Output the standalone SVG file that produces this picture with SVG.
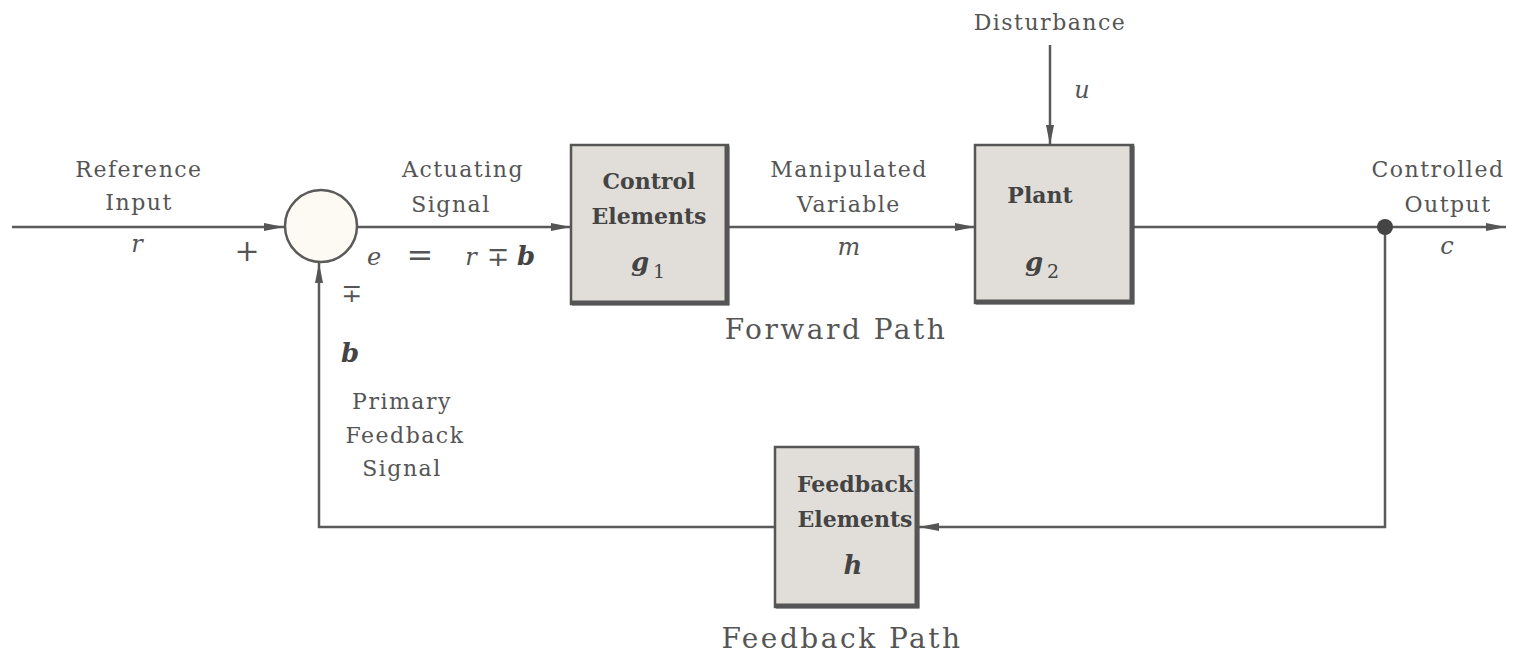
<svg xmlns="http://www.w3.org/2000/svg" width="1516" height="654" viewBox="0 0 1516 654">
<defs>
<marker id="arr" viewBox="0 0 20 10" refX="20" refY="5" markerWidth="20" markerHeight="10" markerUnits="userSpaceOnUse" orient="auto">
<path d="M0,1 L20,5 L0,9 Z" fill="#555"/>
</marker>
</defs>
<style>
.ln{stroke:#5a5a5a;stroke-width:2.5;fill:none}
.lbl{font-family:"DejaVu Serif","Liberation Serif",serif;font-size:22px;fill:#555;text-anchor:middle;letter-spacing:1.5px}
.sym{font-family:"DejaVu Serif","Liberation Serif",serif;fill:#555;text-anchor:middle}
.big{font-family:"DejaVu Serif","Liberation Serif",serif;font-size:28px;fill:#555;text-anchor:middle;letter-spacing:2.5px}
.bx{font-family:"DejaVu Serif","Liberation Serif",serif;font-size:22px;font-weight:bold;fill:#444;text-anchor:middle}
.mi{font-family:"DejaVu Serif","Liberation Serif",serif;font-style:italic;font-size:24px;fill:#555;text-anchor:middle}
.mb{font-family:"DejaVu Serif","Liberation Serif",serif;font-style:italic;font-weight:bold;font-size:26px;fill:#444;text-anchor:middle}
.box{fill:#e1deda;stroke:#555;stroke-width:2.5}
.shadow{stroke:#555;stroke-width:5;fill:none}
</style>
<rect width="1516" height="654" fill="#ffffff"/>
<g id="connectors">
<line class="ln" x1="12" y1="227" x2="284" y2="227" marker-end="url(#arr)"/>
<line class="ln" x1="357" y1="227" x2="571" y2="227" marker-end="url(#arr)"/>
<line class="ln" x1="728" y1="227" x2="975" y2="227" marker-end="url(#arr)"/>
<line class="ln" x1="1050" y1="45" x2="1050" y2="145" marker-end="url(#arr)"/>
<line class="ln" x1="1133" y1="227" x2="1506" y2="227" marker-end="url(#arr)"/>
<polyline class="ln" points="1385,227 1385,527 919,527" marker-end="url(#arr)"/>
<polyline class="ln" points="775,527 319,527 319,263" marker-end="url(#arr)"/>
<circle cx="1385" cy="227" r="8" fill="#444"/>
</g>
<g id="sum">
<circle cx="321" cy="226" r="36" fill="#fcfaf2" stroke="#5a5a5a" stroke-width="2.5"/>
</g>
<g id="control">
<rect class="box" x="571" y="145" width="157" height="159"/>
<polyline class="shadow" points="727,146 727,303 572,303"/>
<text class="bx" x="649" y="189">Control</text>
<text class="bx" x="649" y="224">Elements</text>
<text class="mb" x="640" y="271">g</text>
<text x="659" y="278" font-family="DejaVu Serif,serif" font-size="19" fill="#444" text-anchor="middle">1</text>
</g>
<g id="plant">
<rect class="box" x="975" y="145" width="158" height="158"/>
<polyline class="shadow" points="1132,146 1132,302 976,302"/>
<text class="bx" x="1040" y="203">Plant</text>
<text class="mb" x="1034" y="271">g</text>
<text x="1053" y="278" font-family="DejaVu Serif,serif" font-size="19" fill="#444" text-anchor="middle">2</text>
</g>
<g id="feedback">
<rect class="box" x="775" y="447" width="143" height="160"/>
<polyline class="shadow" points="917,448 917,606 776,606"/>
<text class="bx" x="855" y="492">Feedback</text>
<text class="bx" x="855" y="527">Elements</text>
<text class="mb" x="853" y="574">h</text>
</g>
<g id="labels">
<text class="lbl" x="139" y="177">Reference</text>
<text class="lbl" x="139" y="210">Input</text>
<text class="mi" x="137" y="252">r</text>
<text class="sym" x="247" y="261" style="font-size:30px">+</text>
<text class="lbl" x="463" y="177">Actuating</text>
<text class="lbl" x="451" y="212">Signal</text>
<text class="mi" x="374" y="265">e</text>
<text class="sym" x="420" y="266" style="font-size:32px">=</text>
<text class="mi" x="471" y="265">r</text>
<text class="sym" x="498" y="266" style="font-size:27px">∓</text>
<text class="mb" x="526" y="265">b</text>
<text class="sym" x="352" y="302" style="font-size:25px">∓</text>
<text class="mb" x="350" y="362">b</text>
<text class="lbl" x="402" y="409">Primary</text>
<text class="lbl" x="405" y="443">Feedback</text>
<text class="lbl" x="402" y="476">Signal</text>
<text class="lbl" x="849" y="177">Manipulated</text>
<text class="lbl" x="849" y="212">Variable</text>
<text class="mi" x="849" y="255">m</text>
<text class="lbl" x="1050" y="30">Disturbance</text>
<text class="mi" x="1082" y="98">u</text>
<text class="big" x="836" y="339">Forward Path</text>
<text class="lbl" x="1438" y="177">Controlled</text>
<text class="lbl" x="1448" y="212">Output</text>
<text class="mi" x="1447" y="254">c</text>
<text class="big" x="842" y="648">Feedback Path</text>
</g>
</svg>
